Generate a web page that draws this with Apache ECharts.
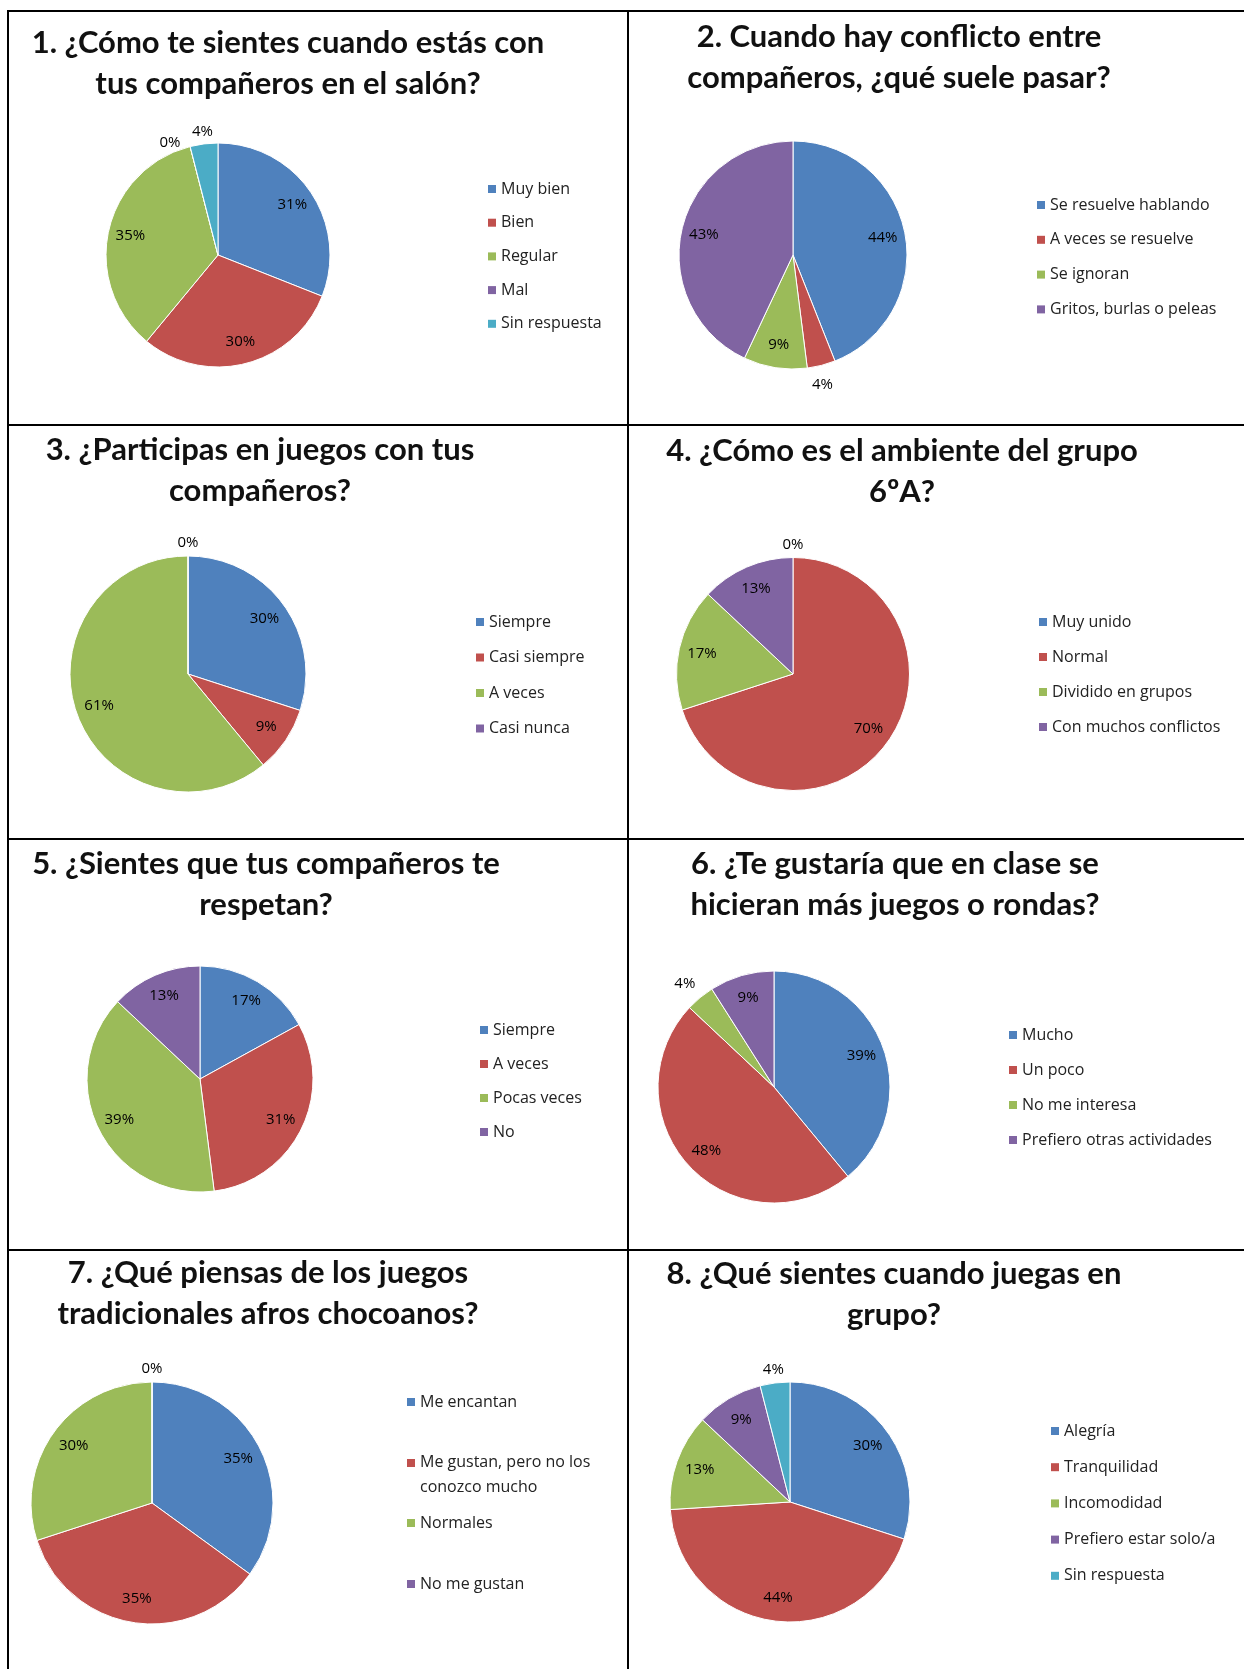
<!DOCTYPE html>
<html>
<head>
<meta charset="utf-8">
<script src="https://cdn.jsdelivr.net/npm/echarts@6/dist/echarts.min.js"></script>
<style>
  html, body { margin: 0; padding: 0; background: #fff; }
  #page { position: relative; width: 1244px; height: 1669px; overflow: hidden; }
  .cell { position: absolute; }
  .rule { position: absolute; background: #000; z-index: 2; }
</style>
</head>
<body>
<div id="page"></div>
<script>
// --- survey data ---
const q1Title = '1. ¿Cómo te sientes cuando estás con\ntus compañeros en el salón?';
const q1Names = ['Muy bien', 'Bien', 'Regular', 'Mal', 'Sin respuesta'];
const q1Values = [31, 30, 35, 0, 4];

const q2Title = '2. Cuando hay conflicto entre\ncompañeros, ¿qué suele pasar?';
const q2Names = ['Se resuelve hablando', 'A veces se resuelve', 'Se ignoran', 'Gritos, burlas o peleas'];
const q2Values = [44, 4, 9, 43];

const q3Title = '3. ¿Participas en juegos con tus\ncompañeros?';
const q3Names = ['Siempre', 'Casi siempre', 'A veces', 'Casi nunca'];
const q3Values = [30, 9, 61, 0];

const q4Title = '4. ¿Cómo es el ambiente del grupo\n6ºA?';
const q4Names = ['Muy unido', 'Normal', 'Dividido en grupos', 'Con muchos conflictos'];
const q4Values = [0, 70, 17, 13];

const q5Title = '5. ¿Sientes que tus compañeros te\nrespetan?';
const q5Names = ['Siempre', 'A veces', 'Pocas veces', 'No'];
const q5Values = [17, 31, 39, 13];

const q6Title = '6. ¿Te gustaría que en clase se\nhicieran más juegos o rondas?';
const q6Names = ['Mucho', 'Un poco', 'No me interesa', 'Prefiero otras actividades'];
const q6Values = [39, 48, 4, 9];

const q7Title = '7. ¿Qué piensas de los juegos\ntradicionales afros chocoanos?';
const q7Names = ['Me encantan', 'Me gustan, pero no los conozco mucho', 'Normales', 'No me gustan'];
const q7Values = [35, 35, 30, 0];

const q8Title = '8. ¿Qué sientes cuando juegas en\ngrupo?';
const q8Names = ['Alegría', 'Tranquilidad', 'Incomodidad', 'Prefiero estar solo/a', 'Sin respuesta'];
const q8Values = [30, 44, 13, 9, 4];

// --- look ---
const COLORS = ['#4F81BD', '#C0504D', '#9BBB59', '#8064A2', '#4BACC6'];
const TITLE_FONT = 'Lato, "Open Sans", sans-serif';
const TEXT_FONT = '"Open Sans", Lato, sans-serif';

// table rules (page coords)
const RULES = [
  [7, 10, 1237, 2],     // top
  [7, 423.5, 1237, 2],
  [7, 837.5, 1237, 2],
  [7, 1248.5, 1237, 2],
  [7, 10, 2, 1659],     // left
  [627, 10, 2, 1659]    // middle
];

// layout per cell, coords are local to the cell
const cells = [
  { title: q1Title, names: q1Names, values: q1Values, box: [0, 0, 627, 424],
    center: [218, 255], r: 112, titleX: 288, titleTop: 22,
    legend: { left: 488, top: 181, gap: 17.7 },
    outside: ['Mal', 'Sin respuesta'], shift: { 'Mal': [-17, 8] } },
  { title: q2Title, names: q2Names, values: q2Values, box: [628, 0, 616, 424],
    center: [165, 255], r: 114, titleX: 271, titleTop: 16.5,
    legend: { left: 409, top: 197, gap: 18.8 },
    outside: ['A veces se resuelve'], shift: { 'A veces se resuelve': [-2, 7] } },
  { title: q3Title, names: q3Names, values: q3Values, box: [0, 424, 627, 414],
    center: [188, 250], r: 118, titleX: 260, titleTop: 5.5,
    legend: { left: 476, top: 190, gap: 19.5 },
    outside: ['Casi nunca'] },
  { title: q4Title, names: q4Names, values: q4Values, box: [628, 424, 616, 414],
    center: [165, 250], r: 116.5, titleX: 274, titleTop: 6.5,
    legend: { left: 411, top: 190, gap: 19 },
    outside: ['Muy unido'] },
  { title: q5Title, names: q5Names, values: q5Values, box: [0, 838, 627, 411],
    center: [200, 241], r: 113, titleX: 266, titleTop: 5.5,
    legend: { left: 480, top: 184, gap: 18 },
    outside: [] },
  { title: q6Title, names: q6Names, values: q6Values, box: [628, 838, 616, 411],
    center: [146, 249], r: 116, titleX: 267, titleTop: 5.5,
    legend: { left: 381, top: 189, gap: 19 },
    outside: ['No me interesa'], shift: { 'No me interesa': [-7, -4] } },
  { title: q7Title, names: q7Names, values: q7Values, box: [0, 1249, 627, 420],
    center: [152, 254], r: 121, titleX: 268, titleTop: 3.5,
    legend: { left: 407, tops: [153, 213, 274, 335], wrap: { 'Me gustan, pero no los conozco mucho': 'Me gustan, pero no los\nconozco mucho' } },
    outside: ['No me gustan'] },
  { title: q8Title, names: q8Names, values: q8Values, box: [628, 1249, 616, 420],
    center: [162, 253], r: 120, titleX: 266, titleTop: 4.5,
    legend: { left: 423, top: 174, gap: 20.2 },
    outside: ['Sin respuesta'] }
];

const legendText = { fontFamily: TEXT_FONT, fontSize: 16, color: '#222', lineHeight: 16 };

function legendBase(left, top) {
  return {
    orient: 'vertical', left, top, padding: 0,
    itemWidth: 8, itemHeight: 8, icon: 'rect',
    itemStyle: { borderWidth: 0 },
    selectedMode: false,
    textStyle: legendText
  };
}

// one legend, or one legend per item when the rows are spaced unevenly
function buildLegend(c) {
  const lg = c.legend;
  if (!lg.tops) {
    return [Object.assign(legendBase(lg.left, lg.top), { itemGap: lg.gap, data: c.names })];
  }
  return c.names.map((name, i) => {
    const wrapped = lg.wrap && lg.wrap[name];
    if (!wrapped) {
      return Object.assign(legendBase(lg.left, lg.tops[i] - 8), { data: [name] });
    }
    // two-line item: square sits next to the first line
    return Object.assign(legendBase(lg.left, lg.tops[i] - 12), {
      itemHeight: 32,
      data: [{ name, icon: 'path://M0 0H8V8H0Z M0 32H8V32H0Z' }],
      formatter: () => wrapped,
      textStyle: Object.assign({}, legendText, { lineHeight: 25 })
    });
  });
}

function buildOption(c) {
  const shift = c.shift || {};
  const pieBase = {
    type: 'pie', center: c.center, startAngle: 90, clockwise: true,
    silent: true, animation: false, labelLine: { show: false }
  };
  const labelStyle = {
    fontFamily: TEXT_FONT, fontSize: 15, color: '#000', position: 'inside',
    formatter: '{c}%'
  };
  const labelData = (wantOutside) => c.names.map((name, i) => ({
    name, value: c.values[i],
    label: { show: c.outside.includes(name) === wantOutside }
  }));

  return {
    color: COLORS,
    title: {
      text: c.title, left: c.titleX, top: c.titleTop, textAlign: 'center', padding: 0,
      textStyle: { fontFamily: TITLE_FONT, fontWeight: 'bold', fontSize: 31, lineHeight: 41, color: '#111' }
    },
    legend: buildLegend(c),
    series: [
      Object.assign({}, pieBase, {
        name: 'main', radius: c.r,
        itemStyle: { borderColor: '#fff', borderWidth: 1 },
        label: { show: false },
        data: c.names.map((name, i) => ({ name, value: c.values[i] }))
      }),
      // labels inside the slices (~3/4 of the radius)
      Object.assign({}, pieBase, {
        name: 'inner', radius: [c.r * 0.55, c.r],
        itemStyle: { color: 'transparent', borderWidth: 0 },
        label: labelStyle,
        data: labelData(false)
      }),
      // labels just outside the rim for the thin slices
      Object.assign({}, pieBase, {
        name: 'outer', radius: [c.r, c.r * 1.17],
        itemStyle: { color: 'transparent', borderWidth: 0 },
        label: labelStyle,
        labelLayout: (p) => {
          const s = shift[c.names[p.dataIndex]];
          return s ? { dx: s[0], dy: s[1] } : {};
        },
        data: labelData(true)
      })
    ]
  };
}

const page = document.getElementById('page');

cells.forEach((c) => {
  const div = document.createElement('div');
  div.className = 'cell';
  div.style.left = c.box[0] + 'px';
  div.style.top = c.box[1] + 'px';
  div.style.width = c.box[2] + 'px';
  div.style.height = c.box[3] + 'px';
  page.appendChild(div);
  const chart = echarts.init(div, null, { renderer: 'canvas' });
  chart.setOption(buildOption(c));
});

RULES.forEach(([x, y, w, h]) => {
  const d = document.createElement('div');
  d.className = 'rule';
  d.style.left = x + 'px';
  d.style.top = y + 'px';
  d.style.width = w + 'px';
  d.style.height = h + 'px';
  page.appendChild(d);
});
</script>
</body>
</html>
